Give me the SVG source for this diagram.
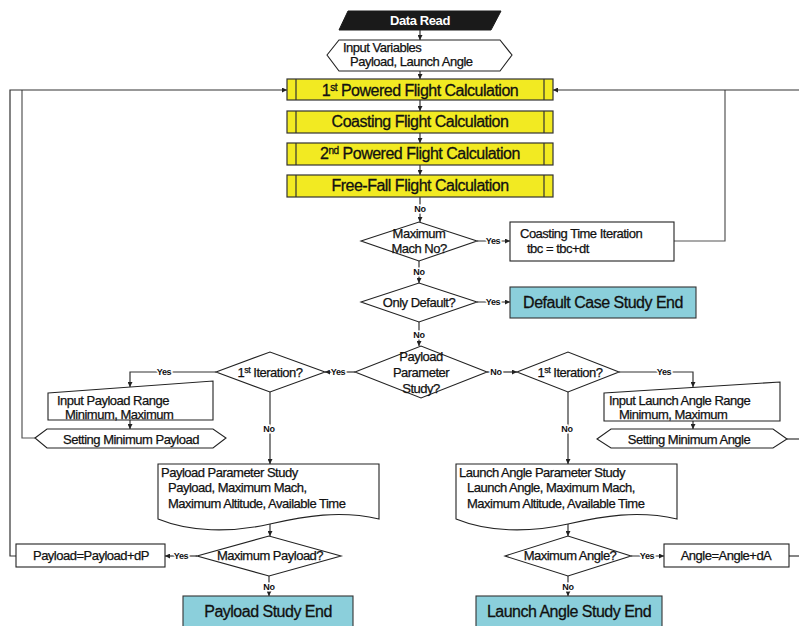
<svg xmlns="http://www.w3.org/2000/svg" width="799" height="626" viewBox="0 0 799 626">
<style>
.b{fill:#fff;stroke:#222;stroke-width:1.1}
.y{fill:#F2EA22;stroke:#333;stroke-width:1.2}
.c{fill:#8BCFDB;stroke:#333;stroke-width:1.1}
.l{fill:none;stroke:#333;stroke-width:1.2}
.g{fill:none;stroke:#555;stroke-width:1.2}
.t{font-family:"Liberation Sans",Arial,sans-serif;fill:#111;font-size:13px;letter-spacing:-0.5px;stroke:#111;stroke-width:0.25}
.m{text-anchor:middle}
.big{font-size:16px;letter-spacing:-0.5px;stroke-width:0.3}
.lab{font-family:"Liberation Sans",Arial,sans-serif;font-size:9px;font-weight:bold;letter-spacing:-0.3px;fill:#111;text-anchor:middle;stroke:#fff;stroke-width:3;paint-order:stroke}
</style>
<defs>
<marker id="a" viewBox="0 0 6 6" markerWidth="5" markerHeight="5" refX="6" refY="3" orient="auto" markerUnits="userSpaceOnUse">
<path d="M0,0 L6,3 L0,6 z" fill="#222"/>
</marker>
</defs>

<g id="connectors">
<path class="l" d="M420,30 V40" marker-end="url(#a)"/>
<path class="l" d="M420,71 V79" marker-end="url(#a)"/>
<path class="l" d="M420,100 V111" marker-end="url(#a)"/>
<path class="l" d="M420,133 V143" marker-end="url(#a)"/>
<path class="l" d="M420,165 V175" marker-end="url(#a)"/>
<path class="l" d="M420,197 V222" marker-end="url(#a)"/>
<path class="l" d="M477,241 H510" marker-end="url(#a)"/>
<path class="g" d="M674,241 H725 V90"/>
<path class="l" d="M799,90 H553" marker-end="url(#a)"/>
<path class="l" d="M419,261 V283" marker-end="url(#a)"/>
<path class="l" d="M477,302 H510" marker-end="url(#a)"/>
<path class="l" d="M419,322 V346" marker-end="url(#a)"/>
<path class="l" d="M355,372 H325" marker-end="url(#a)"/>
<path class="l" d="M487,372 H517" marker-end="url(#a)"/>
<path class="l" d="M216,372 H130 V387" marker-end="url(#a)"/>
<path class="l" d="M130,420 V429" marker-end="url(#a)"/>
<path class="g" d="M35,438 H22 V90"/>
<path class="l" d="M16,556 H10 V90 H287" marker-end="url(#a)"/>
<path class="l" d="M270,392 V464" marker-end="url(#a)"/>
<path class="l" d="M270,524 V536" marker-end="url(#a)"/>
<path class="l" d="M197,556 H165" marker-end="url(#a)"/>
<path class="l" d="M269,576 V596" marker-end="url(#a)"/>
<path class="l" d="M619,372 H693 V387" marker-end="url(#a)"/>
<path class="l" d="M693,421 V429" marker-end="url(#a)"/>
<path class="l" d="M787,439 H799"/>
<path class="l" d="M568,392 V464" marker-end="url(#a)"/>
<path class="l" d="M568,524 V536" marker-end="url(#a)"/>
<path class="l" d="M631,556 H664" marker-end="url(#a)"/>
<path class="l" d="M789,556 H799"/>
<path class="l" d="M568,576 V596" marker-end="url(#a)"/>
<text class="lab" x="420" y="212">No</text>
<text class="lab" x="493" y="244">Yes</text>
<text class="lab" x="419" y="275">No</text>
<text class="lab" x="493" y="305">Yes</text>
<text class="lab" x="419" y="338">No</text>
<text class="lab" x="338" y="375">Yes</text>
<text class="lab" x="496" y="375">No</text>
<text class="lab" x="164" y="375">Yes</text>
<text class="lab" x="664" y="375">Yes</text>
<text class="lab" x="269" y="432">No</text>
<text class="lab" x="567" y="432">No</text>
<text class="lab" x="181" y="559">Yes</text>
<text class="lab" x="647" y="559">Yes</text>
<text class="lab" x="269" y="590">No</text>
<text class="lab" x="568" y="590">No</text>
</g>

<g id="data-read">
<polygon points="348,11 501,11 491,30 339,30" fill="#1a1a1a" stroke="#1a1a1a"/>
<text x="420" y="25" text-anchor="middle" font-family="Liberation Sans,Arial,sans-serif" font-size="13" font-weight="bold" letter-spacing="-0.4" fill="#fff">Data Read</text>
</g>

<g id="input-variables">
<polygon class="b" points="327,55 339,40 500,40 512,55 500,71 339,71"/>
<text class="t" x="343" y="52">Input Variables</text>
<text class="t" x="350" y="66">Payload, Launch Angle</text>
</g>

<g id="powered1">
<rect class="y" x="287" y="79" width="266" height="21"/>
<path class="l" d="M296,79 V100 M544,79 V100"/>
<text class="t big m" x="420" y="96">1<tspan font-size="10" dy="-5">st</tspan><tspan dy="5"> Powered Flight Calculation</tspan></text>
</g>

<g id="coasting">
<rect class="y" x="287" y="111" width="266" height="22"/>
<path class="l" d="M296,111 V133 M544,111 V133"/>
<text class="t big m" x="420" y="127">Coasting Flight Calculation</text>
</g>

<g id="powered2">
<rect class="y" x="287" y="143" width="266" height="22"/>
<path class="l" d="M296,143 V165 M544,143 V165"/>
<text class="t big m" x="420" y="159">2<tspan font-size="10" dy="-5">nd</tspan><tspan dy="5"> Powered Flight Calculation</tspan></text>
</g>

<g id="freefall">
<rect class="y" x="287" y="175" width="266" height="22"/>
<path class="l" d="M296,175 V197 M544,175 V197"/>
<text class="t big m" x="420" y="191">Free-Fall Flight Calculation</text>
</g>

<g id="max-mach">
<polygon class="b" points="361,241 419,222 477,241 419,261"/>
<text class="t m" x="419" y="238">Maximum</text>
<text class="t m" x="419" y="253">Mach No?</text>
</g>

<g id="coasting-iter">
<rect class="b" x="510" y="222" width="164" height="39"/>
<text class="t" x="520" y="238">Coasting Time Iteration</text>
<text class="t" x="527" y="253">tbc = tbc+dt</text>
</g>

<g id="only-default">
<polygon class="b" points="361,302 419,283 477,302 419,322"/>
<text class="t m" x="419" y="307">Only Default?</text>
</g>

<g id="default-end">
<rect class="c" x="510" y="287" width="186" height="31"/>
<text class="t big m" x="603" y="308">Default Case Study End</text>
</g>

<g id="payload-param">
<polygon class="b" points="355,372 421,346 487,372 421,398"/>
<text class="t m" x="421" y="361">Payload</text>
<text class="t m" x="421" y="377">Parameter</text>
<text class="t m" x="421" y="393">Study?</text>
</g>

<g id="iter-left">
<polygon class="b" points="216,372 270,352 325,372 270,392"/>
<text class="t m" x="270" y="377">1<tspan font-size="9" dy="-4">st</tspan><tspan dy="4"> Iteration?</tspan></text>
</g>

<g id="input-payload-range">
<polygon class="b" points="48,393 213,381 213,420 48,420"/>
<text class="t" x="57" y="405">Input Payload Range</text>
<text class="t" x="65" y="419">Minimum, Maximum</text>
</g>

<g id="set-min-payload">
<polygon class="b" points="35,438 47,429 213,429 226,438 213,448 47,448"/>
<text class="t m" x="131" y="444">Setting Minimum Payload</text>
</g>

<g id="payload-study">
<path class="b" d="M158,464 H379 V519 C340,510 305,516 270,524 C230,533 190,532 158,519 Z"/>
<text class="t" x="161" y="477">Payload Parameter Study</text>
<text class="t" x="168" y="492">Payload, Maximum Mach,</text>
<text class="t" x="168" y="508">Maximum Altitude, Available Time</text>
</g>

<g id="max-payload">
<polygon class="b" points="197,556 269,536 341,556 269,576"/>
<text class="t m" x="270" y="560">Maximum Payload?</text>
</g>

<g id="payload-inc">
<rect class="b" x="16" y="544" width="149" height="23"/>
<text class="t m" x="91" y="560">Payload=Payload+dP</text>
</g>

<g id="payload-end">
<rect class="c" x="183" y="596" width="170" height="32"/>
<text class="t big m" x="268" y="617">Payload Study End</text>
</g>

<g id="iter-right">
<polygon class="b" points="517,372 568,352 619,372 568,392"/>
<text class="t m" x="570" y="377">1<tspan font-size="9" dy="-4">st</tspan><tspan dy="4"> Iteration?</tspan></text>
</g>

<g id="input-angle-range">
<polygon class="b" points="604,393 780,382 780,421 604,421"/>
<text class="t" x="609" y="405">Input Launch Angle Range</text>
<text class="t" x="619" y="419">Minimum, Maximum</text>
</g>

<g id="set-min-angle">
<polygon class="b" points="597,439 611,429 773,429 787,439 773,448 611,448"/>
<text class="t m" x="689" y="444">Setting Minimum Angle</text>
</g>

<g id="angle-study">
<path class="b" d="M456,464 H677 V519 C638,510 603,516 568,524 C528,533 488,532 456,519 Z"/>
<text class="t" x="459" y="477">Launch Angle Parameter Study</text>
<text class="t" x="467" y="492">Launch Angle, Maximum Mach,</text>
<text class="t" x="467" y="508">Maximum Altitude, Available Time</text>
</g>

<g id="max-angle">
<polygon class="b" points="505,556 568,536 631,556 568,576"/>
<text class="t m" x="570" y="560">Maximum Angle?</text>
</g>

<g id="angle-inc">
<rect class="b" x="664" y="544" width="125" height="23"/>
<text class="t m" x="726" y="560">Angle=Angle+dA</text>
</g>

<g id="angle-end">
<rect class="c" x="476" y="596" width="186" height="32"/>
<text class="t big m" x="569" y="617">Launch Angle Study End</text>
</g>
</svg>
